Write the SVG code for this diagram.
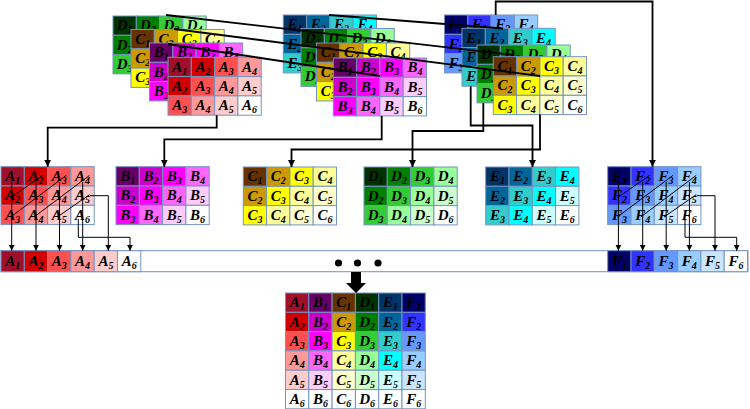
<svg xmlns="http://www.w3.org/2000/svg" width="750" height="409" viewBox="0 0 750 409">
<style>
.L rect{width:23.3px;height:19.3px;stroke:#7393C2;stroke-width:1}
.Bar rect{height:21px}
text{font-family:'Liberation Serif',serif;font-style:italic;font-weight:bold;font-size:15px;text-anchor:middle;fill:#000}
tspan{font-size:10px}
.A1{fill:#A0102C}.A2{fill:#D20000}.A3{fill:#FF5050}.A4{fill:#FF9999}.A5{fill:#FFCCCC}
.B1{fill:#660066}.B2{fill:#CC00CC}.B3{fill:#FF00FF}.B4{fill:#FF66FF}.B5{fill:#FFCCFF}
.C1{fill:#663300}.C2{fill:#CC9900}.C3{fill:#FFFF00}.C4{fill:#FFFF99}.C5{fill:#FFFFCC}
.D1{fill:#003300}.D2{fill:#008000}.D3{fill:#33CC33}.D4{fill:#99FF99}.D5{fill:#CCFFCC}
.E1{fill:#003366}.E2{fill:#006699}.E3{fill:#33CCCC}.E4{fill:#00FFFF}.E5{fill:#CCFFFF}
.F1{fill:#000066}.F2{fill:#3333FF}.F3{fill:#6699FF}.F4{fill:#99CCFF}.F5{fill:#CCE5FF}
.A6,.B6,.C6,.D6,.E6,.F6{fill:#fff}
.tk{fill:none;stroke:#000;stroke-width:1.8}
.tn{fill:none;stroke:#000;stroke-width:1}
</style>
<defs>
<marker id="ak" viewBox="0 0 8 8" refX="8" refY="4" markerWidth="7" markerHeight="7" markerUnits="userSpaceOnUse" orient="auto"><path d="M0,0L8,4L0,8z"/></marker>
<marker id="an" viewBox="0 0 8 8" refX="8" refY="4" markerWidth="6" markerHeight="6" markerUnits="userSpaceOnUse" orient="auto"><path d="M0,0L8,4L0,8z"/></marker>
</defs>

<!-- Stack 1 -->
<g id="s1-D" class="L" transform="translate(113,16)">
<rect class="D1" x="0" y="0"/><text x="11.7" y="14.3">D<tspan dy="3">1</tspan></text>
<rect class="D2" x="23.3" y="0"/><text x="35" y="14.3">D<tspan dy="3">2</tspan></text>
<rect class="D3" x="46.6" y="0"/><text x="58.3" y="14.3">D<tspan dy="3">3</tspan></text>
<rect class="D4" x="69.9" y="0"/><text x="81.6" y="14.3">D<tspan dy="3">4</tspan></text>
<rect class="D2" x="0" y="19.3"/><text x="11.7" y="33.6">D<tspan dy="3">2</tspan></text>
<rect class="D3" x="23.3" y="19.3"/><rect class="D4" x="46.6" y="19.3"/><rect class="D5" x="69.9" y="19.3"/>
<rect class="D3" x="0" y="38.6"/><text x="11.7" y="52.9">D<tspan dy="3">3</tspan></text>
<rect class="D4" x="23.3" y="38.6"/><rect class="D5" x="46.6" y="38.6"/><rect class="D6" x="69.9" y="38.6"/>
</g>
<g id="s1-C" class="L" transform="translate(131,29.5)">
<rect class="C1" x="0" y="0"/><text x="11.7" y="14.3">C<tspan dy="3">1</tspan></text>
<rect class="C2" x="23.3" y="0"/><text x="35" y="14.3">C<tspan dy="3">2</tspan></text>
<rect class="C3" x="46.6" y="0"/><text x="58.3" y="14.3">C<tspan dy="3">3</tspan></text>
<rect class="C4" x="69.9" y="0"/><text x="81.6" y="14.3">C<tspan dy="3">4</tspan></text>
<rect class="C2" x="0" y="19.3"/><text x="11.7" y="33.6">C<tspan dy="3">2</tspan></text>
<rect class="C3" x="23.3" y="19.3"/><rect class="C4" x="46.6" y="19.3"/><rect class="C5" x="69.9" y="19.3"/>
<rect class="C3" x="0" y="38.6"/><text x="11.7" y="52.9">C<tspan dy="3">3</tspan></text>
<rect class="C4" x="23.3" y="38.6"/><rect class="C5" x="46.6" y="38.6"/><rect class="C6" x="69.9" y="38.6"/>
</g>
<g id="s1-B" class="L" transform="translate(149.5,43)">
<rect class="B1" x="0" y="0"/><text x="11.7" y="14.3">B<tspan dy="3">1</tspan></text>
<rect class="B2" x="23.3" y="0"/><text x="35" y="14.3">B<tspan dy="3">2</tspan></text>
<rect class="B3" x="46.6" y="0"/><text x="58.3" y="14.3">B<tspan dy="3">3</tspan></text>
<rect class="B4" x="69.9" y="0"/><text x="81.6" y="14.3">B<tspan dy="3">4</tspan></text>
<rect class="B2" x="0" y="19.3"/><text x="11.7" y="33.6">B<tspan dy="3">2</tspan></text>
<rect class="B3" x="23.3" y="19.3"/><rect class="B4" x="46.6" y="19.3"/><rect class="B5" x="69.9" y="19.3"/>
<rect class="B3" x="0" y="38.6"/><text x="11.7" y="52.9">B<tspan dy="3">3</tspan></text>
<rect class="B4" x="23.3" y="38.6"/><rect class="B5" x="46.6" y="38.6"/><rect class="B6" x="69.9" y="38.6"/>
</g>
<g id="s1-A" class="L" transform="translate(168,57.3)">
<rect class="A1" x="0" y="0"/><text x="11.7" y="14.3">A<tspan dy="3">1</tspan></text>
<rect class="A2" x="23.3" y="0"/><text x="35" y="14.3">A<tspan dy="3">2</tspan></text>
<rect class="A3" x="46.6" y="0"/><text x="58.3" y="14.3">A<tspan dy="3">3</tspan></text>
<rect class="A4" x="69.9" y="0"/><text x="81.6" y="14.3">A<tspan dy="3">4</tspan></text>
<rect class="A2" x="0" y="19.3"/><text x="11.7" y="33.6">A<tspan dy="3">2</tspan></text>
<rect class="A3" x="23.3" y="19.3"/><text x="35" y="33.6">A<tspan dy="3">3</tspan></text>
<rect class="A4" x="46.6" y="19.3"/><text x="58.3" y="33.6">A<tspan dy="3">4</tspan></text>
<rect class="A5" x="69.9" y="19.3"/><text x="81.6" y="33.6">A<tspan dy="3">5</tspan></text>
<rect class="A3" x="0" y="38.6"/><text x="11.7" y="52.9">A<tspan dy="3">3</tspan></text>
<rect class="A4" x="23.3" y="38.6"/><text x="35" y="52.9">A<tspan dy="3">4</tspan></text>
<rect class="A5" x="46.6" y="38.6"/><text x="58.3" y="52.9">A<tspan dy="3">5</tspan></text>
<rect class="A6" x="69.9" y="38.6"/><text x="81.6" y="52.9">A<tspan dy="3">6</tspan></text>
</g>

<!-- Stack 2 -->
<g id="s2-E" class="L" transform="translate(283.3,15)">
<rect class="E1" x="0" y="0"/><text x="11.7" y="14.3">E<tspan dy="3">1</tspan></text>
<rect class="E2" x="23.3" y="0"/><text x="35" y="14.3">E<tspan dy="3">2</tspan></text>
<rect class="E3" x="46.6" y="0"/><text x="58.3" y="14.3">E<tspan dy="3">3</tspan></text>
<rect class="E4" x="69.9" y="0"/><text x="81.6" y="14.3">E<tspan dy="3">4</tspan></text>
<rect class="E2" x="0" y="19.3"/><text x="11.7" y="33.6">E<tspan dy="3">2</tspan></text>
<rect class="E3" x="23.3" y="19.3"/><rect class="E4" x="46.6" y="19.3"/><rect class="E5" x="69.9" y="19.3"/>
<rect class="E3" x="0" y="38.6"/><text x="11.7" y="52.9">E<tspan dy="3">3</tspan></text>
<rect class="E4" x="23.3" y="38.6"/><rect class="E5" x="46.6" y="38.6"/><rect class="E6" x="69.9" y="38.6"/>
</g>
<g id="s2-D" class="L" transform="translate(301,28.5)">
<rect class="D1" x="0" y="0"/><text x="11.7" y="14.3">D<tspan dy="3">1</tspan></text>
<rect class="D2" x="23.3" y="0"/><text x="35" y="14.3">D<tspan dy="3">2</tspan></text>
<rect class="D3" x="46.6" y="0"/><text x="58.3" y="14.3">D<tspan dy="3">3</tspan></text>
<rect class="D4" x="69.9" y="0"/><text x="81.6" y="14.3">D<tspan dy="3">4</tspan></text>
<rect class="D2" x="0" y="19.3"/><text x="11.7" y="33.6">D<tspan dy="3">2</tspan></text>
<rect class="D3" x="23.3" y="19.3"/><rect class="D4" x="46.6" y="19.3"/><rect class="D5" x="69.9" y="19.3"/>
<rect class="D3" x="0" y="38.6"/><text x="11.7" y="52.9">D<tspan dy="3">3</tspan></text>
<rect class="D4" x="23.3" y="38.6"/><rect class="D5" x="46.6" y="38.6"/><rect class="D6" x="69.9" y="38.6"/>
</g>
<g id="s2-C" class="L" transform="translate(316.5,43)">
<rect class="C1" x="0" y="0"/><text x="11.7" y="14.3">C<tspan dy="3">1</tspan></text>
<rect class="C2" x="23.3" y="0"/><text x="35" y="14.3">C<tspan dy="3">2</tspan></text>
<rect class="C3" x="46.6" y="0"/><text x="58.3" y="14.3">C<tspan dy="3">3</tspan></text>
<rect class="C4" x="69.9" y="0"/><text x="81.6" y="14.3">C<tspan dy="3">4</tspan></text>
<rect class="C2" x="0" y="19.3"/><text x="11.7" y="33.6">C<tspan dy="3">2</tspan></text>
<rect class="C3" x="23.3" y="19.3"/><rect class="C4" x="46.6" y="19.3"/><rect class="C5" x="69.9" y="19.3"/>
<rect class="C3" x="0" y="38.6"/><text x="11.7" y="52.9">C<tspan dy="3">3</tspan></text>
<rect class="C4" x="23.3" y="38.6"/><rect class="C5" x="46.6" y="38.6"/><rect class="C6" x="69.9" y="38.6"/>
</g>
<g id="s2-B" class="L" transform="translate(333.3,58)">
<rect class="B1" x="0" y="0"/><text x="11.7" y="14.3">B<tspan dy="3">1</tspan></text>
<rect class="B2" x="23.3" y="0"/><text x="35" y="14.3">B<tspan dy="3">2</tspan></text>
<rect class="B3" x="46.6" y="0"/><text x="58.3" y="14.3">B<tspan dy="3">3</tspan></text>
<rect class="B4" x="69.9" y="0"/><text x="81.6" y="14.3">B<tspan dy="3">4</tspan></text>
<rect class="B2" x="0" y="19.3"/><text x="11.7" y="33.6">B<tspan dy="3">2</tspan></text>
<rect class="B3" x="23.3" y="19.3"/><text x="35" y="33.6">B<tspan dy="3">3</tspan></text>
<rect class="B4" x="46.6" y="19.3"/><text x="58.3" y="33.6">B<tspan dy="3">4</tspan></text>
<rect class="B5" x="69.9" y="19.3"/><text x="81.6" y="33.6">B<tspan dy="3">5</tspan></text>
<rect class="B3" x="0" y="38.6"/><text x="11.7" y="52.9">B<tspan dy="3">3</tspan></text>
<rect class="B4" x="23.3" y="38.6"/><text x="35" y="52.9">B<tspan dy="3">4</tspan></text>
<rect class="B5" x="46.6" y="38.6"/><text x="58.3" y="52.9">B<tspan dy="3">5</tspan></text>
<rect class="B6" x="69.9" y="38.6"/><text x="81.6" y="52.9">B<tspan dy="3">6</tspan></text>
</g>

<!-- Stack 3 -->
<g id="s3-F" class="L" transform="translate(444.5,15)">
<rect class="F1" x="0" y="0"/><text x="11.7" y="14.3">F<tspan dy="3">1</tspan></text>
<rect class="F2" x="23.3" y="0"/><text x="35" y="14.3">F<tspan dy="3">2</tspan></text>
<rect class="F3" x="46.6" y="0"/><text x="58.3" y="14.3">F<tspan dy="3">3</tspan></text>
<rect class="F4" x="69.9" y="0"/><text x="81.6" y="14.3">F<tspan dy="3">4</tspan></text>
<rect class="F2" x="0" y="19.3"/><text x="11.7" y="33.6">F<tspan dy="3">2</tspan></text>
<rect class="F3" x="23.3" y="19.3"/><rect class="F4" x="46.6" y="19.3"/><rect class="F5" x="69.9" y="19.3"/>
<rect class="F3" x="0" y="38.6"/><text x="11.7" y="52.9">F<tspan dy="3">3</tspan></text>
<rect class="F4" x="23.3" y="38.6"/><rect class="F5" x="46.6" y="38.6"/><rect class="F6" x="69.9" y="38.6"/>
</g>
<g id="s3-E" class="L" transform="translate(462,28.3)">
<rect class="E1" x="0" y="0"/><text x="11.7" y="14.3">E<tspan dy="3">1</tspan></text>
<rect class="E2" x="23.3" y="0"/><text x="35" y="14.3">E<tspan dy="3">2</tspan></text>
<rect class="E3" x="46.6" y="0"/><text x="58.3" y="14.3">E<tspan dy="3">3</tspan></text>
<rect class="E4" x="69.9" y="0"/><text x="81.6" y="14.3">E<tspan dy="3">4</tspan></text>
<rect class="E2" x="0" y="19.3"/><text x="11.7" y="33.6">E<tspan dy="3">2</tspan></text>
<rect class="E3" x="23.3" y="19.3"/><rect class="E4" x="46.6" y="19.3"/><rect class="E5" x="69.9" y="19.3"/>
<rect class="E3" x="0" y="38.6"/><text x="11.7" y="52.9">E<tspan dy="3">3</tspan></text>
<rect class="E4" x="23.3" y="38.6"/><rect class="E5" x="46.6" y="38.6"/><rect class="E6" x="69.9" y="38.6"/>
</g>
<g id="s3-D" class="L" transform="translate(477,45)">
<rect class="D1" x="0" y="0"/><text x="11.7" y="14.3">D<tspan dy="3">1</tspan></text>
<rect class="D2" x="23.3" y="0"/><text x="35" y="14.3">D<tspan dy="3">2</tspan></text>
<rect class="D3" x="46.6" y="0"/><text x="58.3" y="14.3">D<tspan dy="3">3</tspan></text>
<rect class="D4" x="69.9" y="0"/><text x="81.6" y="14.3">D<tspan dy="3">4</tspan></text>
<rect class="D2" x="0" y="19.3"/><text x="11.7" y="33.6">D<tspan dy="3">2</tspan></text>
<rect class="D3" x="23.3" y="19.3"/><rect class="D4" x="46.6" y="19.3"/><rect class="D5" x="69.9" y="19.3"/>
<rect class="D3" x="0" y="38.6"/><text x="11.7" y="52.9">D<tspan dy="3">3</tspan></text>
<rect class="D4" x="23.3" y="38.6"/><rect class="D5" x="46.6" y="38.6"/><rect class="D6" x="69.9" y="38.6"/>
</g>
<g id="s3-C" class="L" transform="translate(493.3,56.7)">
<rect class="C1" x="0" y="0"/><text x="11.7" y="14.3">C<tspan dy="3">1</tspan></text>
<rect class="C2" x="23.3" y="0"/><text x="35" y="14.3">C<tspan dy="3">2</tspan></text>
<rect class="C3" x="46.6" y="0"/><text x="58.3" y="14.3">C<tspan dy="3">3</tspan></text>
<rect class="C4" x="69.9" y="0"/><text x="81.6" y="14.3">C<tspan dy="3">4</tspan></text>
<rect class="C2" x="0" y="19.3"/><text x="11.7" y="33.6">C<tspan dy="3">2</tspan></text>
<rect class="C3" x="23.3" y="19.3"/><text x="35" y="33.6">C<tspan dy="3">3</tspan></text>
<rect class="C4" x="46.6" y="19.3"/><text x="58.3" y="33.6">C<tspan dy="3">4</tspan></text>
<rect class="C5" x="69.9" y="19.3"/><text x="81.6" y="33.6">C<tspan dy="3">5</tspan></text>
<rect class="C3" x="0" y="38.6"/><text x="11.7" y="52.9">C<tspan dy="3">3</tspan></text>
<rect class="C4" x="23.3" y="38.6"/><text x="35" y="52.9">C<tspan dy="3">4</tspan></text>
<rect class="C5" x="46.6" y="38.6"/><text x="58.3" y="52.9">C<tspan dy="3">5</tspan></text>
<rect class="C6" x="69.9" y="38.6"/><text x="81.6" y="52.9">C<tspan dy="3">6</tspan></text>
</g>

<!-- Middle row -->
<g id="mid-A" class="L" transform="translate(1,166.7)">
<rect class="A1" x="0" y="0"/><text x="11.7" y="14.3">A<tspan dy="3">1</tspan></text>
<rect class="A2" x="23.3" y="0"/><text x="35" y="14.3">A<tspan dy="3">2</tspan></text>
<rect class="A3" x="46.6" y="0"/><text x="58.3" y="14.3">A<tspan dy="3">3</tspan></text>
<rect class="A4" x="69.9" y="0"/><text x="81.6" y="14.3">A<tspan dy="3">4</tspan></text>
<rect class="A2" x="0" y="19.3"/><text x="11.7" y="33.6">A<tspan dy="3">2</tspan></text>
<rect class="A3" x="23.3" y="19.3"/><text x="35" y="33.6">A<tspan dy="3">3</tspan></text>
<rect class="A4" x="46.6" y="19.3"/><text x="58.3" y="33.6">A<tspan dy="3">4</tspan></text>
<rect class="A5" x="69.9" y="19.3"/><text x="81.6" y="33.6">A<tspan dy="3">5</tspan></text>
<rect class="A3" x="0" y="38.6"/><text x="11.7" y="52.9">A<tspan dy="3">3</tspan></text>
<rect class="A4" x="23.3" y="38.6"/><text x="35" y="52.9">A<tspan dy="3">4</tspan></text>
<rect class="A5" x="46.6" y="38.6"/><text x="58.3" y="52.9">A<tspan dy="3">5</tspan></text>
<rect class="A6" x="69.9" y="38.6"/><text x="81.6" y="52.9">A<tspan dy="3">6</tspan></text>
</g>
<g id="mid-B" class="L" transform="translate(116,166.7)">
<rect class="B1" x="0" y="0"/><text x="11.7" y="14.3">B<tspan dy="3">1</tspan></text>
<rect class="B2" x="23.3" y="0"/><text x="35" y="14.3">B<tspan dy="3">2</tspan></text>
<rect class="B3" x="46.6" y="0"/><text x="58.3" y="14.3">B<tspan dy="3">3</tspan></text>
<rect class="B4" x="69.9" y="0"/><text x="81.6" y="14.3">B<tspan dy="3">4</tspan></text>
<rect class="B2" x="0" y="19.3"/><text x="11.7" y="33.6">B<tspan dy="3">2</tspan></text>
<rect class="B3" x="23.3" y="19.3"/><text x="35" y="33.6">B<tspan dy="3">3</tspan></text>
<rect class="B4" x="46.6" y="19.3"/><text x="58.3" y="33.6">B<tspan dy="3">4</tspan></text>
<rect class="B5" x="69.9" y="19.3"/><text x="81.6" y="33.6">B<tspan dy="3">5</tspan></text>
<rect class="B3" x="0" y="38.6"/><text x="11.7" y="52.9">B<tspan dy="3">3</tspan></text>
<rect class="B4" x="23.3" y="38.6"/><text x="35" y="52.9">B<tspan dy="3">4</tspan></text>
<rect class="B5" x="46.6" y="38.6"/><text x="58.3" y="52.9">B<tspan dy="3">5</tspan></text>
<rect class="B6" x="69.9" y="38.6"/><text x="81.6" y="52.9">B<tspan dy="3">6</tspan></text>
</g>
<g id="mid-C" class="L" transform="translate(243.3,167)">
<rect class="C1" x="0" y="0"/><text x="11.7" y="14.3">C<tspan dy="3">1</tspan></text>
<rect class="C2" x="23.3" y="0"/><text x="35" y="14.3">C<tspan dy="3">2</tspan></text>
<rect class="C3" x="46.6" y="0"/><text x="58.3" y="14.3">C<tspan dy="3">3</tspan></text>
<rect class="C4" x="69.9" y="0"/><text x="81.6" y="14.3">C<tspan dy="3">4</tspan></text>
<rect class="C2" x="0" y="19.3"/><text x="11.7" y="33.6">C<tspan dy="3">2</tspan></text>
<rect class="C3" x="23.3" y="19.3"/><text x="35" y="33.6">C<tspan dy="3">3</tspan></text>
<rect class="C4" x="46.6" y="19.3"/><text x="58.3" y="33.6">C<tspan dy="3">4</tspan></text>
<rect class="C5" x="69.9" y="19.3"/><text x="81.6" y="33.6">C<tspan dy="3">5</tspan></text>
<rect class="C3" x="0" y="38.6"/><text x="11.7" y="52.9">C<tspan dy="3">3</tspan></text>
<rect class="C4" x="23.3" y="38.6"/><text x="35" y="52.9">C<tspan dy="3">4</tspan></text>
<rect class="C5" x="46.6" y="38.6"/><text x="58.3" y="52.9">C<tspan dy="3">5</tspan></text>
<rect class="C6" x="69.9" y="38.6"/><text x="81.6" y="52.9">C<tspan dy="3">6</tspan></text>
</g>
<g id="mid-D" class="L" transform="translate(364,167)">
<rect class="D1" x="0" y="0"/><text x="11.7" y="14.3">D<tspan dy="3">1</tspan></text>
<rect class="D2" x="23.3" y="0"/><text x="35" y="14.3">D<tspan dy="3">2</tspan></text>
<rect class="D3" x="46.6" y="0"/><text x="58.3" y="14.3">D<tspan dy="3">3</tspan></text>
<rect class="D4" x="69.9" y="0"/><text x="81.6" y="14.3">D<tspan dy="3">4</tspan></text>
<rect class="D2" x="0" y="19.3"/><text x="11.7" y="33.6">D<tspan dy="3">2</tspan></text>
<rect class="D3" x="23.3" y="19.3"/><text x="35" y="33.6">D<tspan dy="3">3</tspan></text>
<rect class="D4" x="46.6" y="19.3"/><text x="58.3" y="33.6">D<tspan dy="3">4</tspan></text>
<rect class="D5" x="69.9" y="19.3"/><text x="81.6" y="33.6">D<tspan dy="3">5</tspan></text>
<rect class="D3" x="0" y="38.6"/><text x="11.7" y="52.9">D<tspan dy="3">3</tspan></text>
<rect class="D4" x="23.3" y="38.6"/><text x="35" y="52.9">D<tspan dy="3">4</tspan></text>
<rect class="D5" x="46.6" y="38.6"/><text x="58.3" y="52.9">D<tspan dy="3">5</tspan></text>
<rect class="D6" x="69.9" y="38.6"/><text x="81.6" y="52.9">D<tspan dy="3">6</tspan></text>
</g>
<g id="mid-E" class="L" transform="translate(485.7,167)">
<rect class="E1" x="0" y="0"/><text x="11.7" y="14.3">E<tspan dy="3">1</tspan></text>
<rect class="E2" x="23.3" y="0"/><text x="35" y="14.3">E<tspan dy="3">2</tspan></text>
<rect class="E3" x="46.6" y="0"/><text x="58.3" y="14.3">E<tspan dy="3">3</tspan></text>
<rect class="E4" x="69.9" y="0"/><text x="81.6" y="14.3">E<tspan dy="3">4</tspan></text>
<rect class="E2" x="0" y="19.3"/><text x="11.7" y="33.6">E<tspan dy="3">2</tspan></text>
<rect class="E3" x="23.3" y="19.3"/><text x="35" y="33.6">E<tspan dy="3">3</tspan></text>
<rect class="E4" x="46.6" y="19.3"/><text x="58.3" y="33.6">E<tspan dy="3">4</tspan></text>
<rect class="E5" x="69.9" y="19.3"/><text x="81.6" y="33.6">E<tspan dy="3">5</tspan></text>
<rect class="E3" x="0" y="38.6"/><text x="11.7" y="52.9">E<tspan dy="3">3</tspan></text>
<rect class="E4" x="23.3" y="38.6"/><text x="35" y="52.9">E<tspan dy="3">4</tspan></text>
<rect class="E5" x="46.6" y="38.6"/><text x="58.3" y="52.9">E<tspan dy="3">5</tspan></text>
<rect class="E6" x="69.9" y="38.6"/><text x="81.6" y="52.9">E<tspan dy="3">6</tspan></text>
</g>
<g id="mid-F" class="L" transform="translate(607.7,166.7)">
<rect class="F1" x="0" y="0"/><text x="11.7" y="14.3">F<tspan dy="3">1</tspan></text>
<rect class="F2" x="23.3" y="0"/><text x="35" y="14.3">F<tspan dy="3">2</tspan></text>
<rect class="F3" x="46.6" y="0"/><text x="58.3" y="14.3">F<tspan dy="3">3</tspan></text>
<rect class="F4" x="69.9" y="0"/><text x="81.6" y="14.3">F<tspan dy="3">4</tspan></text>
<rect class="F2" x="0" y="19.3"/><text x="11.7" y="33.6">F<tspan dy="3">2</tspan></text>
<rect class="F3" x="23.3" y="19.3"/><text x="35" y="33.6">F<tspan dy="3">3</tspan></text>
<rect class="F4" x="46.6" y="19.3"/><text x="58.3" y="33.6">F<tspan dy="3">4</tspan></text>
<rect class="F5" x="69.9" y="19.3"/><text x="81.6" y="33.6">F<tspan dy="3">5</tspan></text>
<rect class="F3" x="0" y="38.6"/><text x="11.7" y="52.9">F<tspan dy="3">3</tspan></text>
<rect class="F4" x="23.3" y="38.6"/><text x="35" y="52.9">F<tspan dy="3">4</tspan></text>
<rect class="F5" x="46.6" y="38.6"/><text x="58.3" y="52.9">F<tspan dy="3">5</tspan></text>
<rect class="F6" x="69.9" y="38.6"/><text x="81.6" y="52.9">F<tspan dy="3">6</tspan></text>
</g>

<!-- Bar -->
<g id="bar">
<rect x="1" y="250.7" width="747" height="21" fill="#fff" stroke="#7393C2" stroke-width="1"/>
<g class="L Bar" transform="translate(1,250.7)">
<rect class="A1" x="0" y="0"/><text x="11.7" y="15">A<tspan dy="3">1</tspan></text>
<rect class="A2" x="23.3" y="0"/><text x="35" y="15">A<tspan dy="3">2</tspan></text>
<rect class="A3" x="46.6" y="0"/><text x="58.3" y="15">A<tspan dy="3">3</tspan></text>
<rect class="A4" x="69.9" y="0"/><text x="81.6" y="15">A<tspan dy="3">4</tspan></text>
<rect class="A5" x="93.2" y="0"/><text x="104.9" y="15">A<tspan dy="3">5</tspan></text>
<rect class="A6" x="116.5" y="0"/><text x="128.2" y="15">A<tspan dy="3">6</tspan></text>
</g>
<g class="L Bar" transform="translate(607.7,250.7)">
<rect class="F1" x="0" y="0"/><text x="11.7" y="15">F<tspan dy="3">1</tspan></text>
<rect class="F2" x="23.3" y="0"/><text x="35" y="15">F<tspan dy="3">2</tspan></text>
<rect class="F3" x="46.6" y="0"/><text x="58.3" y="15">F<tspan dy="3">3</tspan></text>
<rect class="F4" x="69.9" y="0"/><text x="81.6" y="15">F<tspan dy="3">4</tspan></text>
<rect class="F5" x="93.2" y="0"/><text x="104.9" y="15">F<tspan dy="3">5</tspan></text>
<rect class="F6" x="116.5" y="0"/><text x="128.2" y="15">F<tspan dy="3">6</tspan></text>
</g>
<circle cx="338.5" cy="263" r="3.6"/>
<circle cx="357.5" cy="263" r="3.6"/>
<circle cx="378" cy="263" r="3.6"/>
</g>

<!-- Result -->
<g id="result" class="L" transform="translate(285.5,293)">
<rect class="A1" x="0" y="0"/><text x="11.7" y="14.3">A<tspan dy="3">1</tspan></text>
<rect class="B1" x="23.3" y="0"/><text x="35" y="14.3">B<tspan dy="3">1</tspan></text>
<rect class="C1" x="46.6" y="0"/><text x="58.3" y="14.3">C<tspan dy="3">1</tspan></text>
<rect class="D1" x="69.9" y="0"/><text x="81.6" y="14.3">D<tspan dy="3">1</tspan></text>
<rect class="E1" x="93.2" y="0"/><text x="104.9" y="14.3">E<tspan dy="3">1</tspan></text>
<rect class="F1" x="116.5" y="0"/><text x="128.2" y="14.3">F<tspan dy="3">1</tspan></text>
<rect class="A2" x="0" y="19.3"/><text x="11.7" y="33.6">A<tspan dy="3">2</tspan></text>
<rect class="B2" x="23.3" y="19.3"/><text x="35" y="33.6">B<tspan dy="3">2</tspan></text>
<rect class="C2" x="46.6" y="19.3"/><text x="58.3" y="33.6">C<tspan dy="3">2</tspan></text>
<rect class="D2" x="69.9" y="19.3"/><text x="81.6" y="33.6">D<tspan dy="3">2</tspan></text>
<rect class="E2" x="93.2" y="19.3"/><text x="104.9" y="33.6">E<tspan dy="3">2</tspan></text>
<rect class="F2" x="116.5" y="19.3"/><text x="128.2" y="33.6">F<tspan dy="3">2</tspan></text>
<rect class="A3" x="0" y="38.6"/><text x="11.7" y="52.9">A<tspan dy="3">3</tspan></text>
<rect class="B3" x="23.3" y="38.6"/><text x="35" y="52.9">B<tspan dy="3">3</tspan></text>
<rect class="C3" x="46.6" y="38.6"/><text x="58.3" y="52.9">C<tspan dy="3">3</tspan></text>
<rect class="D3" x="69.9" y="38.6"/><text x="81.6" y="52.9">D<tspan dy="3">3</tspan></text>
<rect class="E3" x="93.2" y="38.6"/><text x="104.9" y="52.9">E<tspan dy="3">3</tspan></text>
<rect class="F3" x="116.5" y="38.6"/><text x="128.2" y="52.9">F<tspan dy="3">3</tspan></text>
<rect class="A4" x="0" y="57.9"/><text x="11.7" y="72.2">A<tspan dy="3">4</tspan></text>
<rect class="B4" x="23.3" y="57.9"/><text x="35" y="72.2">B<tspan dy="3">4</tspan></text>
<rect class="C4" x="46.6" y="57.9"/><text x="58.3" y="72.2">C<tspan dy="3">4</tspan></text>
<rect class="D4" x="69.9" y="57.9"/><text x="81.6" y="72.2">D<tspan dy="3">4</tspan></text>
<rect class="E4" x="93.2" y="57.9"/><text x="104.9" y="72.2">E<tspan dy="3">4</tspan></text>
<rect class="F4" x="116.5" y="57.9"/><text x="128.2" y="72.2">F<tspan dy="3">4</tspan></text>
<rect class="A5" x="0" y="77.2"/><text x="11.7" y="91.5">A<tspan dy="3">5</tspan></text>
<rect class="B5" x="23.3" y="77.2"/><text x="35" y="91.5">B<tspan dy="3">5</tspan></text>
<rect class="C5" x="46.6" y="77.2"/><text x="58.3" y="91.5">C<tspan dy="3">5</tspan></text>
<rect class="D5" x="69.9" y="77.2"/><text x="81.6" y="91.5">D<tspan dy="3">5</tspan></text>
<rect class="E5" x="93.2" y="77.2"/><text x="104.9" y="91.5">E<tspan dy="3">5</tspan></text>
<rect class="F5" x="116.5" y="77.2"/><text x="128.2" y="91.5">F<tspan dy="3">5</tspan></text>
<rect class="A6" x="0" y="96.5"/><text x="11.7" y="110.8">A<tspan dy="3">6</tspan></text>
<rect class="B6" x="23.3" y="96.5"/><text x="35" y="110.8">B<tspan dy="3">6</tspan></text>
<rect class="C6" x="46.6" y="96.5"/><text x="58.3" y="110.8">C<tspan dy="3">6</tspan></text>
<rect class="D6" x="69.9" y="96.5"/><text x="81.6" y="110.8">D<tspan dy="3">6</tspan></text>
<rect class="E6" x="93.2" y="96.5"/><text x="104.9" y="110.8">E<tspan dy="3">6</tspan></text>
<rect class="F6" x="116.5" y="96.5"/><text x="128.2" y="110.8">F<tspan dy="3">6</tspan></text>
</g>

<!-- Connectors -->
<g id="connectors">
<path class="tk" d="M166,15L513,55"/>
<path class="tk" d="M174,29L540,76"/>
<path class="tk" d="M168,44L380,76"/>
<path class="tk" d="M329,15L503,28.5"/>
<path class="tk" marker-end="url(#ak)" d="M216.7,115.3V127.7H47.7V166.7"/>
<path class="tk" marker-end="url(#ak)" d="M381.7,116V139.3H164.3V166.7"/>
<path class="tk" marker-end="url(#ak)" d="M540,114.5V149.5H291.5V167"/>
<path class="tk" marker-end="url(#ak)" d="M483.3,103V131H412.5V167"/>
<path class="tk" marker-end="url(#ak)" d="M470.7,86.3V125.5H532.5V167"/>
<path class="tk" marker-end="url(#ak)" d="M495.7,15V1.5H652.5V166.7"/>
<path class="tn" d="M42.9,175.4L10.7,197.7M66.2,175.4L10.7,217M89.5,175.4L34,217M89.5,194.7L57.3,217"/>
<path class="tn" marker-end="url(#an)" d="M11.7,182V250.7"/>
<path class="tn" marker-end="url(#an)" d="M36,182V250.7"/>
<path class="tn" marker-end="url(#an)" d="M59.5,182V250.7"/>
<path class="tn" marker-end="url(#an)" d="M82.7,182V250.7"/>
<path class="tn" marker-end="url(#an)" d="M90,195.7H108.3V250.7"/>
<path class="tn" marker-end="url(#an)" d="M78.3,219V237.3H130V250.7"/>
<path class="tn" d="M649.6,175.4L617.4,197.7M672.9,175.4L617.4,217M696.2,175.4L640.7,217M696.2,194.7L664,217"/>
<path class="tn" marker-end="url(#an)" d="M618.4,182V250.7"/>
<path class="tn" marker-end="url(#an)" d="M642.7,182V250.7"/>
<path class="tn" marker-end="url(#an)" d="M666.2,182V250.7"/>
<path class="tn" marker-end="url(#an)" d="M689.4,182V250.7"/>
<path class="tn" marker-end="url(#an)" d="M696.7,195.7H715V250.7"/>
<path class="tn" marker-end="url(#an)" d="M685,219V237.3H736.7V250.7"/>
<path d="M351,272H361V283H366L356,293L346,283H351Z"/>
</g>
</svg>
